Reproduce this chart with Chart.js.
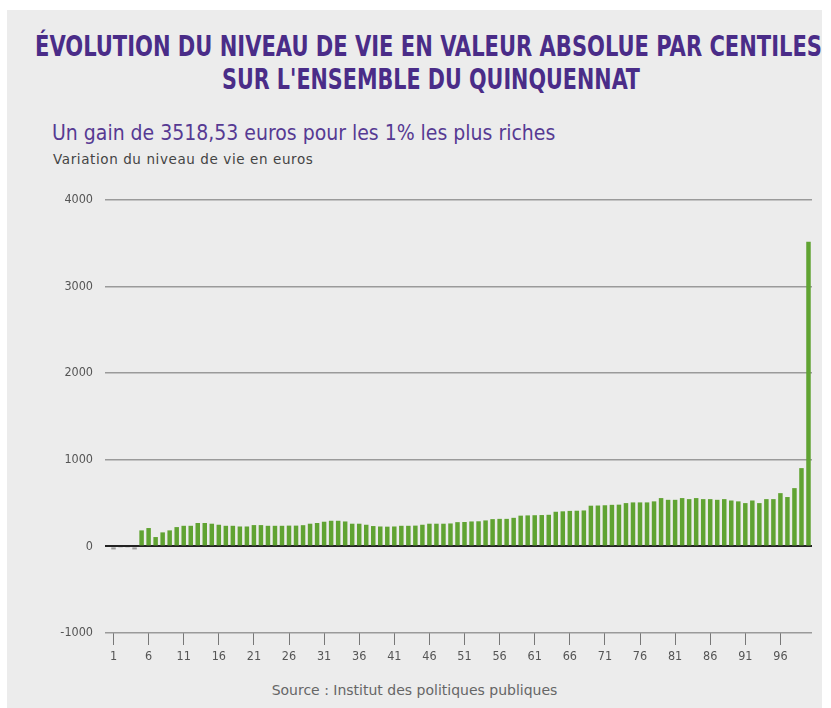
<!DOCTYPE html>
<html lang="fr">
<head>
<meta charset="utf-8">
<script src="https://cdn.jsdelivr.net/npm/chart.js@4.4.1/dist/chart.umd.min.js"></script>
<style>
  html, body { margin:0; padding:0; background:#fff; }
  #panel { position:absolute; left:7px; top:10px; width:815px; height:698px; background:#ececec; }
  .title { position:absolute; white-space:nowrap; font-family:"DejaVu Sans Condensed",sans-serif; font-weight:bold; font-size:28px; color:#4a2c88; line-height:30px; transform-origin:left center; }
  #title1 { top:22px; }
  #title2 { top:55px; }
  #subtitle { position:absolute; left:45px; top:111px; font-family:"DejaVu Sans Condensed",sans-serif; font-size:21px; color:#563a93; white-space:nowrap; }
  #ylabel { position:absolute; left:46px; top:141px; font-family:"DejaVu Sans",sans-serif; font-size:13.5px; letter-spacing:0.6px; color:#444; white-space:nowrap; }
  #source { position:absolute; left:0; width:815px; text-align:center; top:672px; font-family:"DejaVu Sans",sans-serif; font-size:14px; color:#666; white-space:nowrap; }
  #wrap { position:absolute; left:0; top:161px; width:815px; height:500px; }
</style>
</head>
<body>
<div id="panel">
  <span id="title1" class="title">ÉVOLUTION DU NIVEAU DE VIE EN VALEUR ABSOLUE PAR CENTILES</span>
  <span id="title2" class="title">SUR L'ENSEMBLE DU QUINQUENNAT</span>
  <div id="subtitle">Un gain de 3518,53 euros pour les 1% les plus riches</div>
  <div id="ylabel">Variation du niveau de vie en euros</div>
  <div id="wrap"><canvas id="chart"></canvas></div>
  <div id="source">Source : Institut des politiques publiques</div>
</div>
<script>
// centiles 1..100
const centiles = [];
for (let i = 1; i <= 100; i++) centiles.push(String(i));

// variation du niveau de vie (euros)
const gains = [
  -35, -15, -15, -35, 185, 212, 108, 162, 185, 223,
  238, 238, 270, 270, 262, 250, 238, 238, 230, 230,
  246, 246, 238, 238, 238, 240, 240, 245, 262, 270,
  285, 296, 296, 288, 262, 262, 250, 235, 230, 228,
  230, 238, 238, 240, 250, 262, 262, 262, 265, 280,
  282, 288, 290, 300, 315, 318, 318, 330, 355, 358,
  360, 362, 365, 400, 405, 410, 412, 415, 470, 472,
  475, 480, 482, 500, 508, 508, 508, 520, 558, 538,
  538, 558, 546, 558, 546, 546, 538, 546, 530, 520,
  500, 530, 500, 546, 546, 615, 570, 673, 904, 3518.53
];

const yTicks = [-1000, 0, 1000, 2000, 3000, 4000];

// squeeze the title lines to the width they take in the picture
function fitTitle(id, left, right) {
  const el = document.getElementById(id);
  const w = el.getBoundingClientRect().width;
  el.style.left = (left - 7) + 'px';
  el.style.transform = 'scaleX(' + ((right - left) / w) + ')';
}
fitTitle('title1', 35, 822);
fitTitle('title2', 222, 640);

const tickFont = { family: '"DejaVu Sans Condensed", sans-serif', size: 12.5 };

new Chart(document.getElementById('chart'), {
  type: 'bar',
  data: {
    labels: centiles,
    datasets: [{
      data: gains,
      backgroundColor: ctx => ctx.raw < 0 ? '#9c9c9c' : '#60a332',
      barPercentage: 0.64,
      categoryPercentage: 1.0
    }]
  },
  options: {
    responsive: true,
    maintainAspectRatio: false,
    animation: false,
    layout: { padding: { top: 29, right: 10, left: 0, bottom: 0 } },
    plugins: { legend: { display: false }, tooltip: { enabled: false } },
    scales: {
      x: {
        afterFit: s => { s.height = 38; },
        border: { display: false },
        grid: {
          offset: false,
          drawOnChartArea: false,
          drawTicks: true,
          tickLength: 12,
          color: ctx => (ctx.index % 5 === 0 ? '#777' : 'rgba(0,0,0,0)')
        },
        ticks: {
          autoSkip: false,
          maxRotation: 0,
          padding: 4,
          color: '#555',
          font: tickFont,
          callback: (v, i) => (i % 5 === 0 ? centiles[i] : '')
        }
      },
      y: {
        min: yTicks[0],
        max: yTicks[yTicks.length - 1],
        afterFit: s => { s.width = 103; },
        afterBuildTicks: s => { s.ticks = yTicks.map(v => ({ value: v })); },
        border: { display: false },
        grid: {
          drawTicks: true,
          tickLength: 5,
          lineWidth: ctx => (ctx.tick && ctx.tick.value === 0 ? 2 : 1.5),
          color: ctx => (ctx.tick && ctx.tick.value === 0 ? '#222' : '#9a9a9a')
        },
        ticks: {
          padding: 12,
          color: '#555',
          font: tickFont,
          callback: v => String(v)
        }
      }
    }
  }
});
</script>
</body>
</html>
